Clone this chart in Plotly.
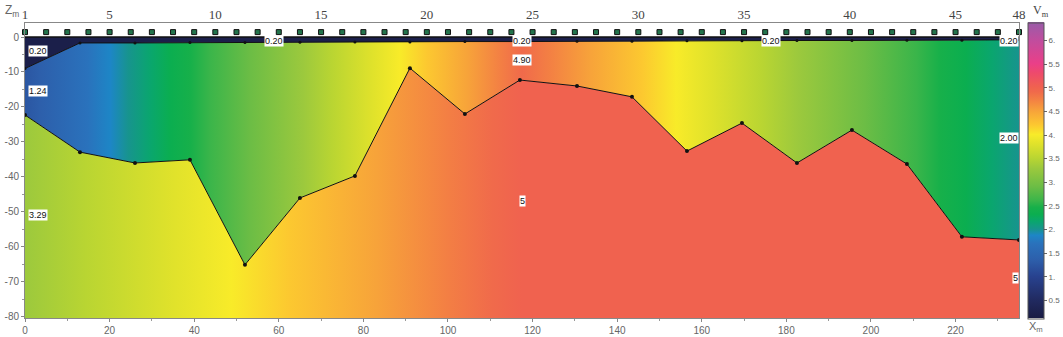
import numpy as np
import plotly.graph_objects as go
import plotly.colors as pc

# ---------------- data ----------------
geophone_numbers = list(range(1, 49))
top_tick_labels = [1, 5, 10, 15, 20, 25, 30, 35, 40, 45, 48]
x_ticks = [0, 20, 40, 60, 80, 100, 120, 140, 160, 180, 200, 220]
z_ticks = [0, -10, -20, -30, -40, -50, -60, -70, -80]
cbar_ticks = [0.5, 1, 1.5, 2, 2.5, 3, 3.5, 4, 4.5, 5, 5.5, 6]
cbar_ticktext = ["0.5", "1.", "1.5", "2.", "2.5", "3.", "3.5", "4.", "4.5", "5.", "5.5", "6."]

# boundary nodes (x in m)
node_x = [0, 13, 26, 39, 52, 65, 78, 91, 104, 117, 130.5, 143.5, 156.5,
          169.5, 182.5, 195.5, 208.5, 221.5, 235]
# base of layer 1 (m)
layer1_z = [-9.0, -1.7, -1.7, -1.6, -1.6, -1.5, -1.4, -1.4, -1.3, -1.3,
            -1.2, -1.2, -1.1, -1.1, -1.0, -1.0, -0.9, -0.9, -0.8]
# refractor: base of layer 2 (m)
refractor_z = [-22.3, -32.9, -36.0, -35.1, -65.1, -46.0, -39.7, -8.9, -22.0,
               -12.3, -14.0, -17.1, -32.6, -24.6, -36.0, -26.6, -36.3, -57.1, -58.0]

# layer velocities at control positions
ctrl_x = [0, 117.5, 235]
layer1_v = [0.20, 0.20, 0.20]
layer2_v = [1.24, 4.90, 2.00]
layer3_v = [3.29, 5.0, 5.0]
layer1_label_x = [0, 58.75, 117.5, 176.25, 235]
model_bottom = -80.3

# ---------------- colour scale (velocity -> colour) ----------------
VMIN, VMAX = 0.12, 6.38
cs_v = [0.12, 0.5, 1.0, 1.35, 1.7, 1.87, 2.0, 2.16, 2.31, 2.46, 2.6, 2.9,
        3.29, 3.5, 3.8, 4.0, 4.2, 4.5, 4.75, 4.9, 5.0, 5.3, 5.5, 6.0, 6.38]
cs_c = ["#1a1c44", "#212a60", "#28428f", "#2d5fab", "#2a72bc", "#1d86c6",
        "#17948e", "#0aa66e", "#0bae50", "#17b04a", "#3ab54a", "#6cbd45",
        "#9cc93d", "#b9d532", "#e0e22b", "#f8eb29", "#fcc830", "#f7a33a",
        "#f37e44", "#f06a4b", "#f0624f", "#ee4a6c", "#ea3f88", "#c04d9e", "#985ca8"]
colorscale = [[(v - VMIN) / (VMAX - VMIN), c] for v, c in zip(cs_v, cs_c)]


def vcolor(v):
    t = min(max((v - VMIN) / (VMAX - VMIN), 0), 1)
    return pc.sample_colorscale(colorscale, [t])[0]


def gradient_stops(xs, vs, x0, x1):
    """Colour stops (0..1 across x0..x1) following the colour scale."""
    stops = []
    for i in range(len(xs) - 1):
        a, b = vs[i], vs[i + 1]
        inner = [v for v in cs_v if min(a, b) < v < max(a, b)]
        inner = sorted(inner, reverse=(b < a))
        for v in [a] + inner + [b]:
            if a == b:
                xx = xs[i] if not stops else xs[i + 1]
            else:
                xx = xs[i] + (v - a) / (b - a) * (xs[i + 1] - xs[i])
            stops.append([(xx - x0) / (x1 - x0), vcolor(v)])
    out, last = [], 0.0
    for t, c in stops:
        t = max(min(max(t, 0.0), 1.0), last)
        out.append([t, c])
        last = t
    out[0][0] = 0.0
    out[-1][0] = 1.0
    return out


X0, X1 = ctrl_x[0], ctrl_x[-1]
fig = go.Figure()

# layer 2 (between layer-1 base and refractor)
fig.add_trace(go.Scatter(
    x=node_x + node_x[::-1], y=layer1_z + refractor_z[::-1],
    fill="toself", mode="none", hoverinfo="skip", showlegend=False,
    fillgradient=dict(type="horizontal", start=X0, stop=X1,
                      colorscale=gradient_stops(ctrl_x, layer2_v, X0, X1)),
))

# layer 3 (below refractor)
fig.add_trace(go.Scatter(
    x=node_x + [X1, X0], y=refractor_z + [model_bottom - 5, model_bottom - 5],
    fill="toself", mode="none", hoverinfo="skip", showlegend=False,
    fillgradient=dict(type="horizontal", start=X0, stop=X1,
                      colorscale=gradient_stops(ctrl_x, layer3_v, X0, X1)),
))

# layer 1 (weathered top layer)
fig.add_trace(go.Scatter(
    x=node_x + [X1, X0], y=layer1_z + [0, 0],
    fill="toself", mode="none", fillcolor=vcolor(layer1_v[0]),
    hoverinfo="skip", showlegend=False,
))

# boundaries
fig.add_trace(go.Scatter(
    x=node_x, y=refractor_z, mode="lines+markers",
    line=dict(color="#111", width=1), marker=dict(color="#111", size=4),
    showlegend=False, hoverinfo="skip",
))
fig.add_trace(go.Scatter(
    x=node_x, y=layer1_z, mode="lines+markers",
    line=dict(color="#111", width=1), marker=dict(color="#111", size=3),
    showlegend=False, hoverinfo="skip",
))
fig.add_hline(y=0, line=dict(color="#111", width=1.5))

# geophones on the top (geophone-number) axis
fig.add_trace(go.Scatter(
    x=geophone_numbers, y=[1.4] * len(geophone_numbers), xaxis="x2",
    mode="markers", cliponaxis=False,
    marker=dict(symbol="square", size=5, color="#23744c",
                line=dict(color="#111", width=1)),
    showlegend=False, hoverinfo="skip",
))

# colour bar
fig.add_trace(go.Scatter(
    x=[None], y=[None], mode="markers", showlegend=False, hoverinfo="skip",
    marker=dict(color=[VMIN], colorscale=colorscale, cmin=VMIN, cmax=VMAX,
                showscale=True,
                colorbar=dict(
                    x=1.009, xanchor="left", xpad=0, ypad=0,
                    y=0.5, yanchor="middle", lenmode="pixels", len=296,
                    thickness=16, outlinewidth=1, outlinecolor="#555",
                    tickvals=cbar_ticks, ticktext=cbar_ticktext,
                    ticks="outside", ticklen=3, tickcolor="#666",
                    tickfont=dict(family="Liberation Sans", size=8, color="#666"),
                )),
))

# layer labels
ann = []
lab_font = dict(family="Liberation Sans", size=9, color="#111")


def lab(x, y, text):
    anchor = "left" if x <= X0 + 1 else ("right" if x >= X1 else "center")
    ann.append(dict(x=x, y=y, xref="x", yref="y", text=text, showarrow=False,
                    xanchor=anchor, yanchor="middle", bgcolor="white",
                    borderpad=0, font=lab_font))


lab(0.6, -4.0, f"{layer1_v[0]:.2f}")
for lx in layer1_label_x[1:]:
    lab(lx, -1.0, f"{layer1_v[0]:.2f}")
lab(0.6, -15.4, f"{layer2_v[0]:.2f}")
lab(ctrl_x[1], -6.5, f"{layer2_v[1]:.2f}")
lab(X1, -29.0, f"{layer2_v[2]:.2f}")
lab(0.6, -51.0, f"{layer3_v[0]:.2f}")
lab(ctrl_x[1], -47.0, f"{layer3_v[1]:g}")
lab(X1, -69.0, f"{layer3_v[2]:g}")

gray = "#666"
ann += [
    dict(x=-0.013, y=1.04, xref="paper", yref="paper", text="Z<sub>m</sub>",
         showarrow=False, xanchor="center", yanchor="middle",
         font=dict(family="Liberation Sans", size=12, color=gray)),
    dict(x=1.008, y=-0.03, xref="paper", yref="paper", text="X<sub>m</sub>",
         showarrow=False, xanchor="left", yanchor="middle",
         font=dict(family="Liberation Sans", size=11, color=gray)),
    dict(x=1.012, y=1.04, xref="paper", yref="paper", text="V<sub>m</sub>",
         showarrow=False, xanchor="left", yanchor="middle",
         font=dict(family="Liberation Serif", size=12, color="#444")),
]

fig.update_layout(
    width=1063, height=337,
    margin=dict(l=25, r=44, t=23, b=19, autoexpand=False),
    plot_bgcolor="white", paper_bgcolor="white",
    showlegend=False,
    annotations=ann,
    xaxis=dict(range=[X0, X1], tickvals=x_ticks, ticks="outside", ticklen=3,
               tickcolor="#888", showgrid=False, zeroline=False, automargin=False,
               showline=True, linecolor="#888", linewidth=1, mirror=True,
               minor=dict(dtick=10, ticks="outside", ticklen=2, tickcolor="#999"),
               tickfont=dict(family="Liberation Sans", size=10, color=gray)),
    xaxis2=dict(range=[geophone_numbers[0], geophone_numbers[-1]], overlaying="x",
                side="top", tickvals=top_tick_labels, automargin=False,
                ticks="", showgrid=False, zeroline=False, showline=False,
                tickfont=dict(family="Liberation Serif", size=13, color="#444")),
    yaxis=dict(range=[model_bottom, 4], tickvals=z_ticks,
               ticktext=[str(v) for v in z_ticks], automargin=False,
               ticks="outside", ticklen=3, tickcolor="#888", showgrid=False,
               zeroline=False, showline=True, linecolor="#888", linewidth=1, mirror=True,
               minor=dict(dtick=5, ticks="outside", ticklen=2, tickcolor="#999"),
               tickfont=dict(family="Liberation Sans", size=10, color=gray)),
)

fig.write_html("out.html",
               config={"displayModeBar": False, "staticPlot": True},
               post_script="document.body.style.margin='0px';"
                           "document.body.style.overflow='hidden';")
